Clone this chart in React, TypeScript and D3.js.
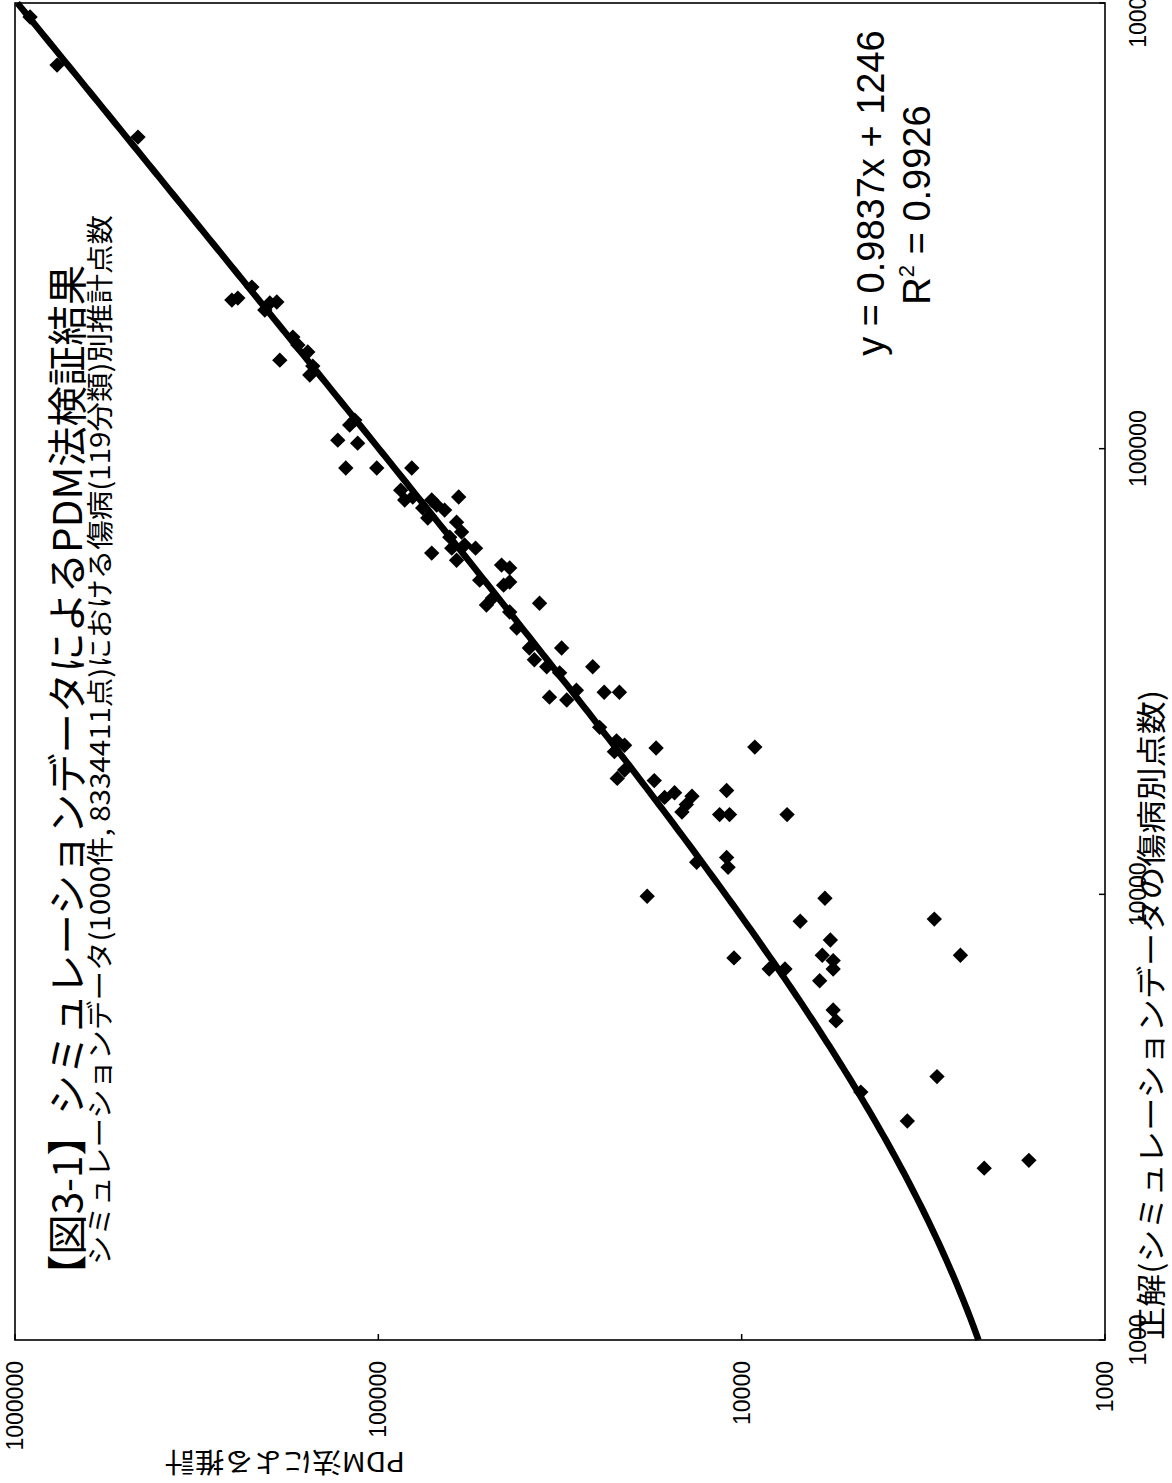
import React from 'react';
import * as d3 from 'd3';

// chart is drawn in its own (unrotated) frame, then turned 90deg counter-clockwise
const W = 1483;
const H = 1172;

const xTicks = [1000, 10000, 100000, 1000000];
const yTicks = [1000, 10000, 100000, 1000000];

// 正解 (x) and PDM法による推計 (y)
const trueScores = [
  930000, 725500, 500200, 215500, 217700, 230400, 204600, 212200, 213300, 158000,
  178000, 170800, 164800, 153200, 146300, 113000, 115900, 104500, 102900, 90500,
  90500, 90500, 80700, 76700, 77900, 73600, 76700, 69900, 74700, 72800,
  68400, 77900, 63300, 58300, 56200, 60800, 59800, 65000, 59800, 54800,
  54000, 49400, 50200, 44600, 50700, 46200, 45000, 43000, 39600, 35700,
  33600, 32400, 35700, 31400, 27700, 27300, 28700, 32400, 28400, 28400,
  23700, 22100, 21600, 20900, 19000, 18200, 21300, 18000, 16500, 16900,
  15300, 16600, 15900, 15100, 15100, 17100, 12100, 11500, 11800, 21400,
  15100, 9900, 7200, 6800, 6800, 8700, 9800, 7900, 7300, 7100,
  6800, 6400, 5500, 5200, 3600, 8800, 7300, 3900, 3100, 2430,
  2530,
];
const pdmScores = [
  909000, 766000, 458700, 253000, 243600, 222900, 205300, 198900, 190300, 186700,
  171900, 166500, 156400, 151500, 154400, 119900, 116100, 129300, 114000, 122900,
  101000, 80900, 86800, 84600, 80400, 75500, 71300, 73100, 69100, 65700,
  60900, 60100, 63600, 71300, 60900, 57900, 54000, 59000, 62800, 45800,
  43500, 45200, 43500, 50400, 52600, 48500, 36000, 43500, 41600, 38400,
  37200, 34400, 31300, 31700, 33800, 30300, 28500, 25700, 23900, 21700,
  24600, 22100, 21000, 22400, 21000, 22000, 17200, 17400, 16300, 15300,
  14600, 13700, 14200, 11500, 10800, 11000, 11000, 10900, 13300, 9200,
  7500, 18200, 10500, 8400, 7600, 6900, 5900, 5700, 6000, 5600,
  5600, 6100, 5600, 5500, 4700, 2950, 2500, 2900, 3500, 2150,
  1620,
];

const slope = 0.9837;
const intercept = 1246;
const r2 = '0.9926';

const title = '【図3-1】シミュレーションデータによるPDM法検証結果';
const subtitle = 'シミュレーションデータ(1000件, 8334411点)における傷病(119分類)別推計点数';
const xTitle = '正解(シミュレーションデータの傷病別点数)';
const yTitle = 'PDM法による推計';

const jp = '"Noto Sans CJK JP", "Noto Sans", sans-serif';
const num = '"Liberation Sans", Arial, sans-serif';

export default function App() {
  const plot = { left: 143, right: 1480, top: 15, bottom: 1105 };

  const x = d3.scaleLog().domain([1000, 1000000]).range([plot.left, plot.right]);
  const y = d3.scaleLog().domain([1000, 1000000]).range([plot.bottom, plot.top]);

  // trendline y = a*x + b drawn on log axes (curves at the low end)
  const lineXs = d3.range(0, 301).map((i) => Math.pow(10, 3 + (3 * i) / 300));
  const trend = d3
    .line<number>()
    .x((d) => x(d))
    .y((d) => y(slope * d + intercept))(lineXs);

  const diamond = d3.symbol(d3.symbolSquare, 118)();
  const fmt = d3.format('d');

  return (
    <svg
      width={H}
      height={W}
      style={{ position: 'absolute', left: 0, top: 0, display: 'block' }}
    >
      <rect width={H} height={W} fill="#fff" />
      <g transform={`translate(0,${W}) rotate(-90)`}>
        {/* plot frame */}
        <rect
          x={plot.left}
          y={plot.top}
          width={plot.right - plot.left}
          height={plot.bottom - plot.top}
          fill="none"
          stroke="#000"
          strokeWidth={1.6}
        />

        {/* ticks */}
        {xTicks.map((t) => (
          <g key={'x' + t}>
            <line x1={x(t)} x2={x(t)} y1={plot.bottom} y2={plot.bottom - 6} stroke="#000" strokeWidth={1.5} />
            <text
              x={x(t)}
              y={1146}
              textAnchor="middle"
              fontFamily={num}
              fontSize={23}
              fill="#000"
            >
              {fmt(t)}
            </text>
          </g>
        ))}
        {yTicks.map((t) => (
          <g key={'y' + t}>
            <line x1={plot.left} x2={plot.left + 6} y1={y(t)} y2={y(t)} stroke="#000" strokeWidth={1.5} />
            <text
              x={122}
              y={y(t)}
              dy="0.35em"
              textAnchor="end"
              fontFamily={num}
              fontSize={23}
              fill="#000"
            >
              {fmt(t)}
            </text>
          </g>
        ))}

        {/* axis titles */}
        <text
          x={plot.left}
          y={1162}
          fontFamily={jp}
          fontSize={30}
          textLength={650}
          lengthAdjust="spacingAndGlyphs"
          fill="#000"
        >
          {xTitle}
        </text>
        <text
          transform={`translate(31,285) rotate(-90)`}
          textAnchor="middle"
          fontFamily={jp}
          fontSize={27}
          textLength={240}
          lengthAdjust="spacingAndGlyphs"
          fill="#000"
        >
          {yTitle}
        </text>

        {/* titles */}
        <text
          x={188}
          y={82}
          fontFamily={jp}
          fontSize={40}
          textLength={1030}
          lengthAdjust="spacingAndGlyphs"
          fill="#000"
        >
          {title}
        </text>
        <text
          x={218}
          y={110}
          fontFamily={jp}
          fontSize={27}
          textLength={1050}
          lengthAdjust="spacingAndGlyphs"
          fill="#000"
        >
          {subtitle}
        </text>

        {/* trendline */}
        <path d={trend ?? ''} fill="none" stroke="#000" strokeWidth={6.5} strokeLinejoin="round" />

        {/* points */}
        {trueScores.map((v, i) => (
          <path
            key={i}
            d={diamond ?? ''}
            transform={`translate(${x(v)},${y(pdmScores[i])}) rotate(45)`}
            fill="#000"
          />
        ))}

        {/* equation */}
        <text x={1290} y={884} textAnchor="middle" fontFamily={num} fontSize={38} fill="#000">
          {`y = ${slope}x + ${intercept}`}
        </text>
        <text x={1278} y={930} textAnchor="middle" fontFamily={num} fontSize={38} fill="#000">
          R
          <tspan dy={-16} fontSize={22}>2</tspan>
          <tspan dy={16}>{` = ${r2}`}</tspan>
        </text>
      </g>
    </svg>
  );
}
